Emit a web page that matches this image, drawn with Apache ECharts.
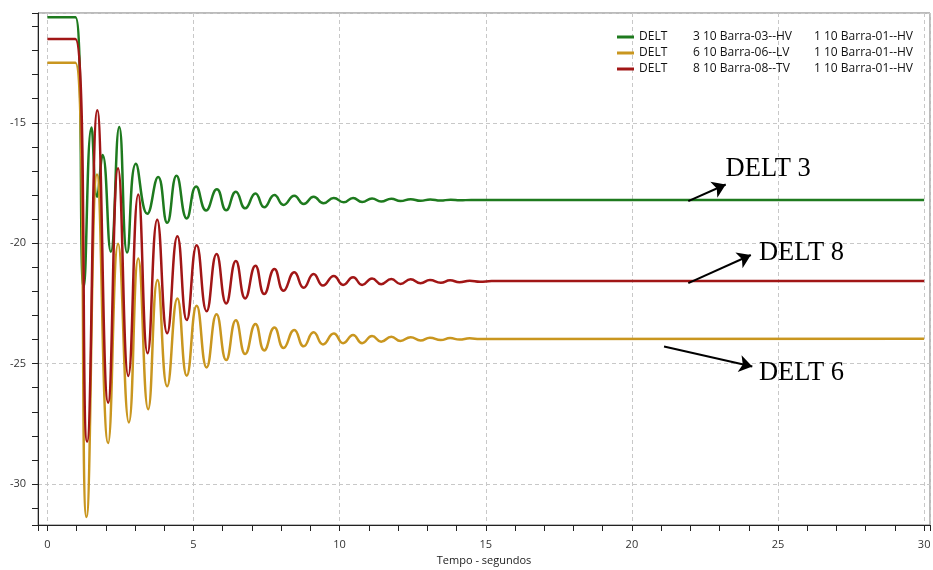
<!DOCTYPE html>
<html><head><meta charset="utf-8">
<script src="https://cdn.jsdelivr.net/npm/echarts@6/dist/echarts.min.js"></script>
<style>html,body{margin:0;padding:0;background:#fff}#c{width:933px;height:570px}</style>
</head><body><div id="c"></div>
<script>
// ---- texts ----
const legendTag = ['DELT', 'DELT', 'DELT'];
const legendFrom = ['3 10 Barra-03--HV', '6 10 Barra-06--LV', '8 10 Barra-08--TV'];
const legendTo = ['1 10 Barra-01--HV', '1 10 Barra-01--HV', '1 10 Barra-01--HV'];
const xTitle = 'Tempo - segundos';
const annoText = ['DELT 3', 'DELT 8', 'DELT 6'];

// ---- DELT 3 (green) ----
const t3 = [0, 0.96, 1.245, 1.51, 1.70, 1.89, 2.17, 2.46, 2.73, 3.03, 3.42, 3.79, 4.10, 4.42, 4.77, 5.09, 5.43, 5.80, 6.12, 6.45, 6.77, 7.12, 7.42, 7.77, 8.08, 8.45, 8.77, 9.11, 9.45, 9.80, 10.14, 10.46, 10.77, 11.11, 11.42, 11.77, 12.08, 12.43, 12.77, 13.10, 13.45, 13.80, 14.12, 14.50, 15.0, 30];
const v3 = [-10.62, -10.62, -21.83, -15.19, -18.07, -16.34, -20.35, -15.17, -20.39, -16.70, -18.78, -17.25, -19.15, -17.2, -18.97, -17.64, -18.64, -17.76, -18.63, -17.86, -18.55, -17.93, -18.51, -18.0, -18.41, -18.03, -18.37, -18.07, -18.34, -18.12, -18.30, -18.12, -18.29, -18.14, -18.27, -18.15, -18.25, -18.17, -18.24, -18.18, -18.23, -18.19, -18.22, -18.20, -18.21, -18.21];

// ---- DELT 6 (gold) ----
const t6 = [0, 0.96, 1.34, 1.70, 2.08, 2.42, 2.79, 3.11, 3.45, 3.77, 4.10, 4.45, 4.77, 5.11, 5.45, 5.79, 6.12, 6.45, 6.77, 7.12, 7.42, 7.77, 8.08, 8.45, 8.77, 9.11, 9.43, 9.80, 10.12, 10.46, 10.77, 11.11, 11.42, 11.77, 12.08, 12.43, 12.77, 13.09, 13.46, 13.78, 14.10, 14.45, 14.80, 30];
const v6 = [-12.51, -12.51, -31.37, -17.15, -28.3, -20.02, -27.44, -20.63, -26.89, -21.53, -25.94, -22.29, -25.5, -22.6, -25.16, -22.95, -24.85, -23.2, -24.6, -23.35, -24.45, -23.5, -24.35, -23.6, -24.28, -23.7, -24.2, -23.75, -24.15, -23.81, -24.15, -23.85, -24.09, -23.88, -24.06, -23.9, -24.04, -23.92, -24.02, -23.94, -24.0, -23.95, -23.98, -23.97];

// ---- DELT 8 (red) ----
const t8 = [0, 0.96, 1.36, 1.71, 2.08, 2.42, 2.77, 3.11, 3.43, 3.76, 4.10, 4.45, 4.77, 5.11, 5.45, 5.79, 6.12, 6.45, 6.77, 7.12, 7.42, 7.77, 8.08, 8.45, 8.77, 9.11, 9.43, 9.80, 10.12, 10.46, 10.77, 11.11, 11.42, 11.77, 12.08, 12.43, 12.77, 13.09, 13.46, 13.78, 14.10, 14.45, 14.80, 15.2, 30];
const v8 = [-11.52, -11.52, -28.24, -14.48, -26.62, -16.89, -25.51, -17.98, -24.57, -19.02, -23.74, -19.71, -23.19, -20.08, -22.82, -20.45, -22.50, -20.74, -22.29, -20.93, -22.11, -21.07, -21.97, -21.21, -21.85, -21.28, -21.76, -21.36, -21.73, -21.41, -21.73, -21.46, -21.70, -21.49, -21.69, -21.50, -21.66, -21.53, -21.64, -21.54, -21.62, -21.56, -21.60, -21.57, -21.57];

// ---- annotations (data coordinates) ----
const arrow3 = [[21.93, -18.25], [23.21, -17.56]];
const arrow8 = [[21.93, -21.66], [24.07, -20.49]];
const arrow6 = [[21.10, -24.29], [24.12, -25.12]];
const label3 = [23.19, -16.94];
const label8 = [24.33, -20.39];
const label6 = [24.33, -25.39];

const colors = ['#1e7a1e', '#c9961f', '#a11616'];
const names = legendTag.map((a, i) => a + ' ' + legendFrom[i] + ' ' + legendTo[i]);
const zip = (t, v) => t.map((x, i) => [x, v[i]]);
const FONT = 'Open Sans';

function anno(arrow, label, text) {
  return {
    markLine: {
      silent: true, animation: false,
      symbol: ['none', 'arrow'], symbolSize: 13,
      lineStyle: { color: '#000', width: 2, type: 'solid' },
      label: { show: false },
      emphasis: { disabled: true },
      data: [[{ coord: arrow[0] }, { coord: arrow[1] }]]
    },
    markPoint: {
      silent: true, animation: false,
      symbol: 'circle', symbolSize: 1,
      itemStyle: { color: 'rgba(0,0,0,0)' },
      label: { show: true, position: 'right', distance: 0, formatter: text, color: '#000', fontFamily: 'Liberation Serif', fontSize: 26.5 },
      data: [{ coord: label }]
    }
  };
}

const seriesData = [zip(t3, v3), zip(t6, v6), zip(t8, v8)];
const annos = [anno(arrow3, label3, annoText[0]), anno(arrow6, label6, annoText[2]), anno(arrow8, label8, annoText[1])];

const chart = echarts.init(document.getElementById('c'), null, { renderer: 'canvas' });
const axisCol = '#222';
const rs = { fontFamily: FONT, fontSize: 12, color: '#111', lineHeight: 14 };
chart.setOption({
  animation: false,
  backgroundColor: '#fff',
  grid: { left: 38, top: 13, right: 3, bottom: 45, show: true, borderColor: '#777', borderWidth: 1, containLabel: false, outerBoundsMode: 'none' },
  legend: {
    orient: 'vertical', left: 617, top: 30, itemWidth: 17, itemHeight: 3, itemGap: 2, icon: 'rect',
    padding: 0,
    data: names,
    formatter: function (name) {
      const i = names.indexOf(name);
      return '{a|' + legendTag[i] + '}{b|' + legendFrom[i] + '}{c|' + legendTo[i] + '}';
    },
    textStyle: {
      fontFamily: FONT, fontSize: 12, color: '#111', lineHeight: 14,
      rich: {
        a: Object.assign({}, rs, { width: 54 }),
        b: Object.assign({}, rs, { width: 121 }),
        c: Object.assign({}, rs)
      }
    }
  },
  xAxis: {
    type: 'value', min: -0.32, max: 30.2, minInterval: 5, maxInterval: 5,
    name: xTitle, nameLocation: 'middle', nameGap: 30,
    nameTextStyle: { fontFamily: FONT, fontSize: 11, color: '#222' },
    axisLine: { show: true, onZero: false, lineStyle: { color: axisCol, width: 1 } },
    axisTick: { show: true, inside: false, length: 6, lineStyle: { color: axisCol } },
    minorTick: { show: true, splitNumber: 5, length: 6, lineStyle: { color: axisCol } },
    axisLabel: { inside: false, showMinLabel: false, showMaxLabel: false, margin: 14, fontFamily: FONT, fontSize: 11, color: '#333' },
    splitLine: { show: true, lineStyle: { color: '#c8c8c8', type: [4, 3] } }
  },
  yAxis: {
    type: 'value', position: 'left', min: -31.7, max: -10.44, minInterval: 5, maxInterval: 5,
    axisLine: { show: true, onZero: false, lineStyle: { color: axisCol, width: 1 } },
    axisTick: { show: true, inside: false, length: 6, lineStyle: { color: axisCol } },
    minorTick: { show: true, splitNumber: 5, length: 6, lineStyle: { color: axisCol } },
    axisLabel: { inside: false, showMinLabel: false, showMaxLabel: false, margin: 12, fontFamily: FONT, fontSize: 11, color: '#333' },
    splitLine: { show: true, lineStyle: { color: '#c8c8c8', type: [4, 3] } }
  },
  series: names.map((n, i) => Object.assign({
    type: 'line', name: n, data: seriesData[i],
    smooth: 0.5, symbol: 'none', showSymbol: false,
    lineStyle: { width: 2.5, color: colors[i] },
    itemStyle: { color: colors[i] },
    emphasis: { disabled: true }
  }, annos[i]))
});
</script></body></html>
